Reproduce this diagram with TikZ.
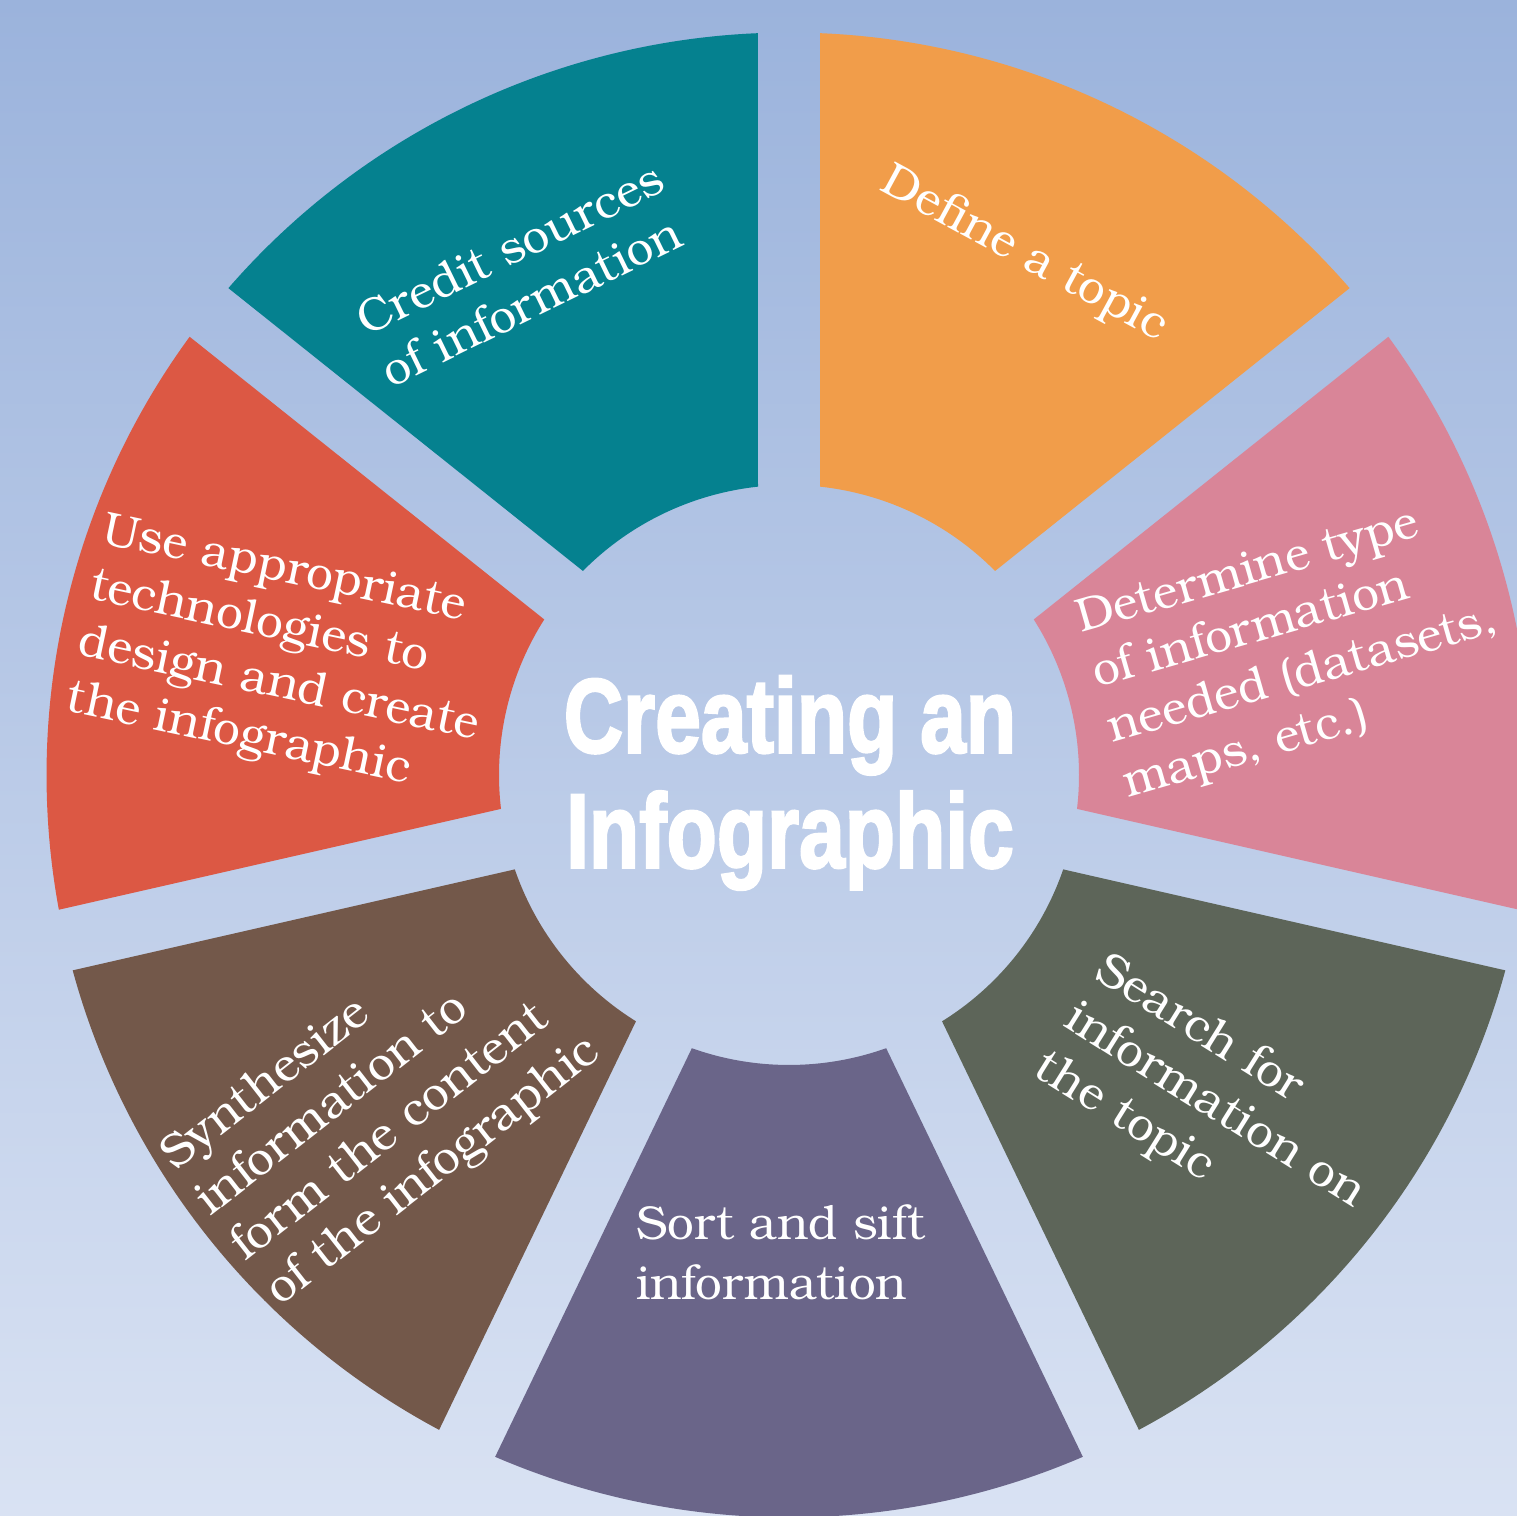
\documentclass[tikz,border=0pt]{standalone}
\usepackage{fontspec}
\setmainfont{TeX Gyre Bonum}
\newfontface\titlefont{Liberation Sans Bold}[FakeBold=2.5]
\definecolor{bgTop}{HTML}{9BB3DC}
\definecolor{bgBot}{HTML}{D9E2F3}
\definecolor{cOrange}{HTML}{F19D4A}
\definecolor{cPink}{HTML}{D98598}
\definecolor{cDark}{HTML}{5D6559}
\definecolor{cPurple}{HTML}{6A6589}
\definecolor{cBrown}{HTML}{73584A}
\definecolor{cRed}{HTML}{DC5844}
\definecolor{cTeal}{HTML}{05818F}
\tikzset{
  lbl/.style={text=white, inner sep=0pt, anchor=base west, font=\fontsize{27}{32.5}\selectfont},
  ttl/.style={text=white, inner sep=0pt, align=center, xscale=0.78, font=\titlefont\fontsize{60}{65.5}\selectfont}
}
\begin{document}
\begin{tikzpicture}
\useasboundingbox (0,0) rectangle (30.34,30.32);
\shade[top color=bgTop, bottom color=bgBot] (0,0) rectangle (30.34,30.32);
\foreach \c [count=\i from 0] in {cOrange,cPink,cDark,cPurple,cBrown,cRed,cTeal}{
  \pgfmathsetmacro\e{90-\i*360/7}
  \pgfmathsetmacro\s{\e-360/7}
  \fill[\c, shift={(15.78,14.82)}] (\s+2.40:14.85) arc[start angle=\s+2.40, end angle=\e-2.40, radius=14.85]
     -- (\e-6.14:5.8) arc[start angle=\e-6.14, end angle=\s+6.14, radius=5.8] -- cycle;
}
\node[ttl] (title) at (15.8,14.66) {Creating an\\Infographic};
\node[lbl, rotate=26] (credit) at (7.32,23.58) {\vtop{\hbox{Credit sources}\hbox{of information}}};
\node[lbl, rotate=-28.5] (define) at (17.56,26.54) {Define a topic};
\node[lbl, rotate=16] (determine) at (21.62,17.66) {\vtop{\hbox{Determine type}\hbox{of information}\hbox{needed (datasets,}\hbox{maps, etc.)}}};
\node[lbl, rotate=-32] (search) at (21.84,10.78) {\vtop{\hbox{Search for}\hbox{information on}\hbox{the topic}}};
\node[lbl, font=\fontsize{27}{34}\selectfont] (sort) at (12.72,5.52) {\vtop{\hbox{Sort and sift}\hbox{information}}};
\node[lbl, rotate=38] (synth) at (3.50,6.88) {\vtop{\hbox{Synthesize}\hbox{information to}\hbox{form the content}\hbox{of the infographic}}};
\node[lbl, rotate=-12] (use) at (2.00,19.46) {\vtop{\hbox{Use appropriate}\hbox{technologies to}\hbox{design and create}\hbox{the infographic}}};
\end{tikzpicture}
\end{document}
